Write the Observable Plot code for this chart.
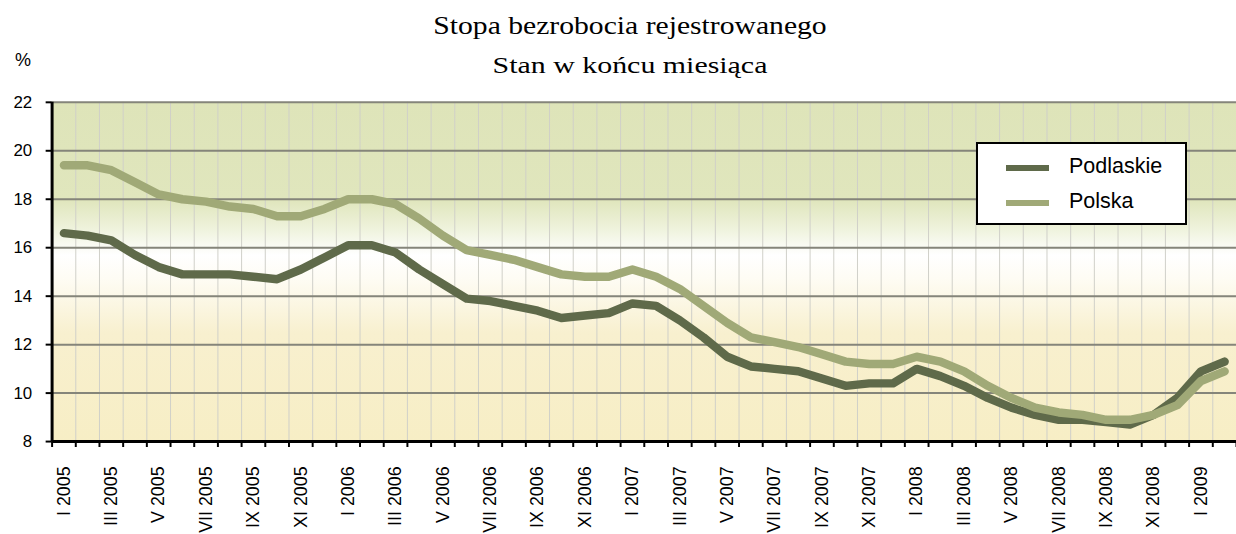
<!DOCTYPE html>
<html><head><meta charset="utf-8">
<script src="https://cdn.jsdelivr.net/npm/d3@7"></script>
<script src="https://cdn.jsdelivr.net/npm/@observablehq/plot@0.6"></script>
<style>
body{margin:0;background:#fff;overflow:hidden;}
#wrap{position:relative;width:1236px;height:534px;overflow:hidden;}
#head{position:relative;height:80px;}
#title{position:absolute;top:11px;left:0;width:1260px;text-align:center;font-family:"Liberation Serif","Times New Roman",serif;font-size:26px;color:#000;white-space:nowrap;transform:scaleX(1.14);transform-origin:630px 0;}
#subtitle{position:absolute;top:53px;left:0;width:1260px;text-align:center;font-family:"Liberation Serif","Times New Roman",serif;font-size:23px;color:#000;white-space:nowrap;transform:scaleX(1.3);transform-origin:630px 0;}
#unit{position:absolute;top:50px;left:15px;font-family:"Liberation Sans",Arial,sans-serif;font-size:18px;}
#legend{position:absolute;left:976px;top:142px;width:207px;height:79px;border:2px solid #000;background:#fff;font-family:"Liberation Sans",Arial,sans-serif;font-size:21.5px;}
.item{position:absolute;left:0;height:24px;}
.sw{position:absolute;left:28px;top:10px;width:43px;height:6px;}
.lab{position:absolute;left:91px;top:-1px;white-space:nowrap;}
svg{display:block;}
</style>
</head><body>
<div id="wrap">
  <div id="head">
    <div id="title">Stopa bezrobocia rejestrowanego</div>
    <div id="subtitle">Stan w końcu miesiąca</div>
    <div id="unit">%</div>
  </div>
  <div id="chart"></div>
  <div id="legend"></div>
</div>
<script>
const months = ["I 2005","II 2005","III 2005","IV 2005","V 2005","VI 2005","VII 2005","VIII 2005","IX 2005","X 2005","XI 2005","XII 2005",
"I 2006","II 2006","III 2006","IV 2006","V 2006","VI 2006","VII 2006","VIII 2006","IX 2006","X 2006","XI 2006","XII 2006",
"I 2007","II 2007","III 2007","IV 2007","V 2007","VI 2007","VII 2007","VIII 2007","IX 2007","X 2007","XI 2007","XII 2007",
"I 2008","II 2008","III 2008","IV 2008","V 2008","VI 2008","VII 2008","VIII 2008","IX 2008","X 2008","XI 2008","XII 2008",
"I 2009","II 2009"];
const podlaskie = [16.6,16.5,16.3,15.7,15.2,14.9,14.9,14.9,14.8,14.7,15.1,15.6,
16.1,16.1,15.8,15.1,14.5,13.9,13.8,13.6,13.4,13.1,13.2,13.3,
13.7,13.6,13.0,12.3,11.5,11.1,11.0,10.9,10.6,10.3,10.4,10.4,
11.0,10.7,10.3,9.8,9.4,9.1,8.9,8.9,8.8,8.7,9.1,9.8,
10.9,11.3];
const polska = [19.4,19.4,19.2,18.7,18.2,18.0,17.9,17.7,17.6,17.3,17.3,17.6,
18.0,18.0,17.8,17.2,16.5,15.9,15.7,15.5,15.2,14.9,14.8,14.8,
15.1,14.8,14.3,13.6,12.9,12.3,12.1,11.9,11.6,11.3,11.2,11.2,
11.5,11.3,10.9,10.3,9.8,9.4,9.2,9.1,8.9,8.9,9.1,9.5,
10.5,10.9];
const seriesNames = ["Podlaskie","Polska"];
const seriesColors = ["#5f6a4a","#a0a977"];
const yTicks = [8,10,12,14,16,18,20,22];

const rowsPo = months.map((m,i)=>({i, pos:i+0.5, v:podlaskie[i], s:"Podlaskie"}));
const rowsPl = months.map((m,i)=>({i, pos:i+0.5, v:polska[i], s:"Polska"}));

const boundaries = d3.range(0, months.length+1);
const labelPos = months.map((m,i)=>i).filter(i=>i%2===0).map(i=>i+0.5);

const defs = () => {
  const g = d3.create("svg:defs");
  const lg = g.append("linearGradient").attr("id","bg").attr("x1",0).attr("x2",0).attr("y1",0).attr("y2",1);
  [[0,"#dee4b9"],[0.29,"#e0e6bd"],[0.37,"#eef2db"],[0.45,"#ffffff"],[0.52,"#fefcf4"],[0.68,"#f8f0cf"],[1,"#f7eec5"]]
    .forEach(([o,c])=>lg.append("stop").attr("offset",o).attr("stop-color",c));
  return g.node();
};

const chart = Plot.plot({
  width: 1246,
  height: 454,
  marginLeft: 52,
  marginRight: 0,
  marginTop: 22,
  marginBottom: 90,
  style: {fontFamily: "'Liberation Sans', Arial, sans-serif", background: "transparent", overflow: "visible"},
  x: {type: "linear", domain: [0, months.length]},
  y: {domain: [8, 22]},
  marks: [
    defs,
    Plot.frame({fill: "url(#bg)", stroke: "none"}),
    Plot.ruleX(boundaries.slice(1, -1), {stroke: "#cfcfc8", strokeWidth: 1}),
    Plot.ruleY(yTicks.slice(1), {stroke: "#85857a", strokeWidth: 2}),
    Plot.line(rowsPo, {x: "pos", y: "v", stroke: seriesColors[0], strokeWidth: 8.5, strokeLinejoin: "round", strokeLinecap: "round"}),
    Plot.line(rowsPl, {x: "pos", y: "v", stroke: seriesColors[1], strokeWidth: 8.5, strokeLinejoin: "round", strokeLinecap: "round"}),
    Plot.ruleX([0], {stroke: "#000", strokeWidth: 3}),
    Plot.ruleY([8], {stroke: "#000", strokeWidth: 3}),
    Plot.axisY({ticks: yTicks, tickSize: 6, tickPadding: 14, stroke: "#000", strokeWidth: 2, fontSize: 17, fill: "#000", label: null}),
    Plot.axisX({ticks: boundaries, tickFormat: () => "", tickSize: 6, stroke: "#000", strokeWidth: 2, label: null}),
    Plot.axisX({ticks: labelPos, tickFormat: d => months[Math.round(d - 0.5)], tickSize: 0, tickPadding: 25, tickRotate: -90, fontSize: 18, fill: "#000", label: null})
  ]
});
document.getElementById("chart").appendChild(chart);

const leg = document.getElementById("legend");
seriesNames.forEach((n,k)=>{
  const it = document.createElement("div");
  it.className = "item";
  it.style.top = (11 + k*35) + "px";
  it.innerHTML = `<div class="sw" style="background:${seriesColors[k]}"></div><div class="lab">${n}</div>`;
  leg.appendChild(it);
});
</script>
</body></html>
